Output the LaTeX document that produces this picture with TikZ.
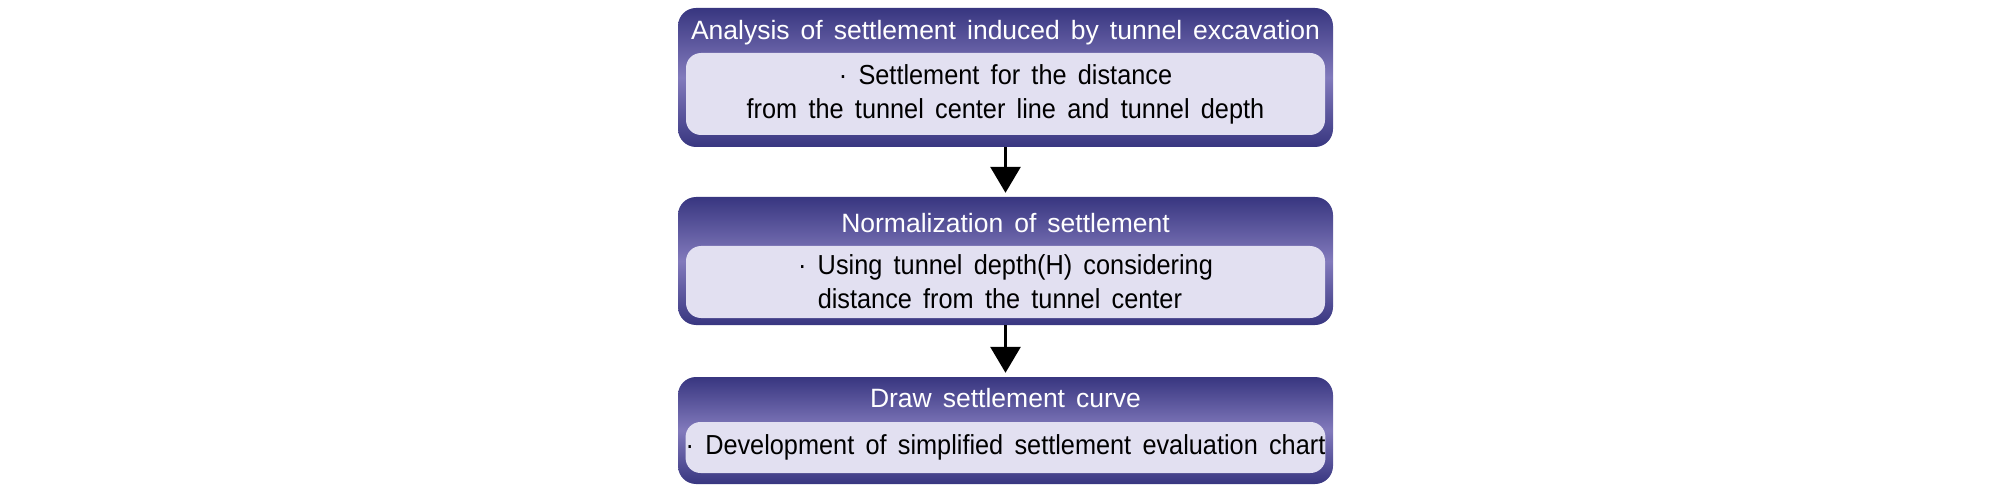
\documentclass[tikz,border=0pt]{standalone}
\usepackage{fontspec}
\setmainfont[WordSpace=1.5]{Liberation Sans}
\newfontfamily\innerfont[FakeStretch=0.92,WordSpace=1.6]{Liberation Sans}
\usetikzlibrary{arrows.meta}
\definecolor{boxdark}{RGB}{56,54,128}
\definecolor{boxlight}{RGB}{130,122,188}
\definecolor{innerfill}{RGB}{226,224,241}
\tikzset{
  outerbox/.style={rounded corners=18pt, minimum width=655pt, inner sep=0pt,
    top color=boxdark, bottom color=boxdark, middle color=boxlight},
  innerbox/.style={rounded corners=15pt, fill=innerfill, minimum width=639pt, inner sep=0pt,
    font=\innerfont\fontsize{27.5}{34}\selectfont, text=black, align=center},
  titletext/.style={font=\fontsize{26.5}{32}\selectfont, text=white, inner sep=0pt},
  flowarrow/.style={line width=3pt, -{Triangle[length=26pt,width=30pt]}, shorten >=4pt}
}
\begin{document}
\begin{tikzpicture}[x=1pt,y=1pt]
\useasboundingbox (0,0) rectangle (2008,-489);
% box 1
\node[outerbox, minimum height=139pt] (b1) at (1005.5,-77.5) {};
\node[innerbox, minimum height=82pt] (i1) at (1005.5,-94) {· Settlement for the distance\\from the tunnel center line and tunnel depth};
\node[titletext] (t1) at (1005.5,-33) {Analysis of settlement induced by tunnel excavation};
% box 2
\node[outerbox, minimum height=128pt] (b2) at (1005.5,-261) {};
\node[innerbox, minimum height=72pt, align=left] (i2) at (1005.5,-282) {· Using tunnel depth(H) considering\\\phantom{· }distance from the tunnel center};
\node[titletext] (t2) at (1005.5,-223) {Normalization of settlement};
% box 3
\node[outerbox, minimum height=107pt] (b3) at (1005.5,-430.5) {};
\node[innerbox, minimum height=51pt] (i3) at (1005.5,-447.5) {· Development of simplified settlement evaluation chart};
\node[titletext] (t3) at (1005.5,-398) {Draw settlement curve};
% arrows
\draw[flowarrow] (b1.south) -- (b2.north);
\draw[flowarrow] (b2.south) -- (b3.north);
\end{tikzpicture}
\end{document}
